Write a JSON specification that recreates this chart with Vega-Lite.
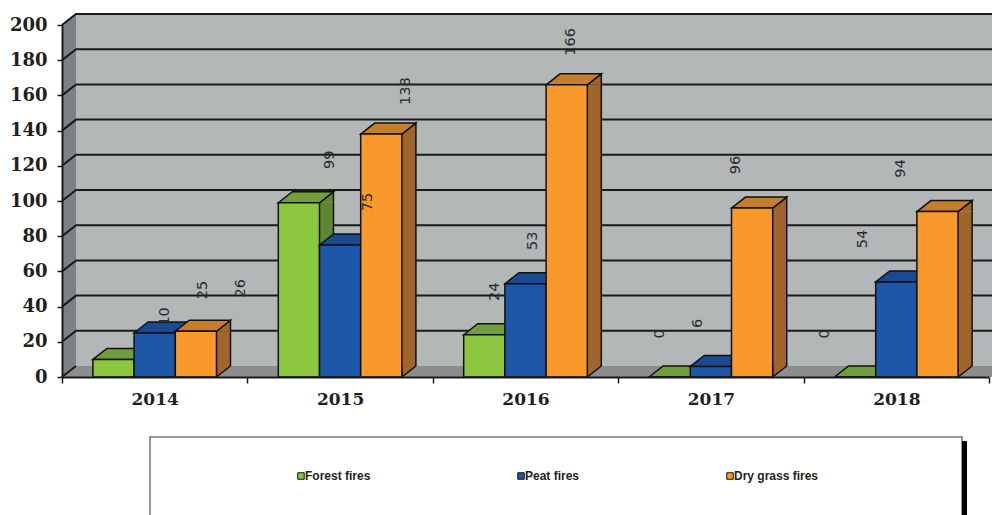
{"$schema":"https://vega.github.io/schema/vega-lite/v6.json","width":992,"height":515,"padding":0,"autosize":{"type":"none"},"background":"white","config":{"view":{"stroke":null}},"resolve":{"scale":{"x":"independent","xOffset":"independent"}},
"datasets":{"fires":[
{"year":"2014","series":"Forest fires","value":10},{"year":"2014","series":"Peat fires","value":25},{"year":"2014","series":"Dry grass fires","value":26},
{"year":"2015","series":"Forest fires","value":99},{"year":"2015","series":"Peat fires","value":75},{"year":"2015","series":"Dry grass fires","value":138},
{"year":"2016","series":"Forest fires","value":24},{"year":"2016","series":"Peat fires","value":53},{"year":"2016","series":"Dry grass fires","value":166},
{"year":"2017","series":"Forest fires","value":0},{"year":"2017","series":"Peat fires","value":6},{"year":"2017","series":"Dry grass fires","value":96},
{"year":"2018","series":"Forest fires","value":0},{"year":"2018","series":"Peat fires","value":54},{"year":"2018","series":"Dry grass fires","value":94}],
"grid":[{"v":20},{"v":40},{"v":60},{"v":80},{"v":100},{"v":120},{"v":140},{"v":160},{"v":180},{"v":200}]},
"layer":[
{"data":{"values":[{}]},"mark":{"type":"rect","fill":"#b4b7b8"},"encoding":{"x":{"datum":0,"type":"quantitative","scale":{"domain":[0,1],"range":[76,992]},"axis":null},"x2":{"datum":1},"y":{"datum":6.25,"type":"quantitative","scale":{"domain":[0,200],"range":[377,25],"nice":false},"axis":{"title":null,"orient":"left","offset":-62,"values":[0,20,40,60,80,100,120,140,160,180,200],"labelFont":"DejaVu Serif","labelFontWeight":"bold","labelFontSize":18,"labelColor":"#231f20","labelPadding":10,"tickSize":5,"tickColor":"#1a1a1a","tickWidth":1.5,"domainColor":"#1a1a1a","domainWidth":2,"zindex":1,"grid":false}},"y2":{"datum":206.25}}},
{"data":{"values":[{}]},"layer":[
{"mark":{"type":"point","shape":"M0 0L14 -11L14 -363L0 -352Z","size":4,"filled":true,"fill":"#7c8184","stroke":null,"opacity":1}},
{"mark":{"type":"point","shape":"M0 0L14 -11L930 -11L930 0Z","size":4,"filled":true,"fill":"#8b8d8f","stroke":null,"opacity":1}},
{"mark":{"type":"point","shape":"M0 0L14 -11","size":4,"filled":false,"stroke":"#1a1a1a","strokeWidth":2,"opacity":1}}],
"encoding":{"x":{"datum":0,"type":"quantitative","scale":{"domain":[0,1],"range":[62,992]},"axis":null},"y":{"datum":0,"type":"quantitative"}}},
{"data":{"name":"grid"},"mark":{"type":"point","shape":"M0 0L14 -11L930 -11","size":4,"filled":false,"stroke":"#1a1a1a","strokeWidth":2,"opacity":1},"encoding":{"x":{"datum":0,"type":"quantitative","scale":{"domain":[0,1],"range":[62,992]},"axis":null},"y":{"field":"v","type":"quantitative"}}},
{"data":{"name":"fires"},"resolve":{"scale":{"x":"shared","xOffset":"shared"}},"encoding":{"x":{"field":"year","type":"nominal","scale":{"domain":["2014","2015","2016","2017","2018"],"range":[62,989],"paddingInner":0,"paddingOuter":0},"axis":{"title":null,"orient":"bottom","offset":-138,"tickBand":"extent","labelAngle":0,"labelFont":"DejaVu Serif","labelFontWeight":"bold","labelFontSize":17,"labelColor":"#231f20","labelPadding":8,"tickSize":6,"tickColor":"#1a1a1a","tickWidth":1.5,"domainColor":"#1a1a1a","domainWidth":2,"zindex":1}},"xOffset":{"field":"series","type":"nominal","scale":{"domain":["Forest fires","Peat fires","Dry grass fires"],"paddingInner":0,"paddingOuter":0.75}}},
"layer":[
{"transform":[{"filter":"datum.series=='Forest fires' && datum.value>0"}],"layer":[
{"mark":{"type":"rule","stroke":"#5f8533","strokeWidth":14},"encoding":{"xOffset":{"value":79.1},"y":{"field":"value","type":"quantitative"},"y2":{"datum":6.25}}},
{"mark":{"type":"rule","stroke":"#111","strokeWidth":1.5},"encoding":{"xOffset":{"value":86.1},"y":{"field":"value","type":"quantitative"},"y2":{"datum":6.25}}},
{"mark":{"type":"point","shape":"M20.6 0L34.6 -11L34.6 0","size":4,"filled":true,"fill":"#5f8533","stroke":"#111","strokeWidth":1.5,"opacity":1},"encoding":{"y":{"field":"value","type":"quantitative"}}}]},
{"transform":[{"filter":"datum.series=='Forest fires'"}],"layer":[
{"mark":{"type":"point","shape":"M-20.6 0L-6.6 -11L34.6 -11L20.6 0Z","size":4,"filled":true,"fill":"#6f9e3a","stroke":"#111","strokeWidth":1.5,"opacity":1},"encoding":{"y":{"field":"value","type":"quantitative"}}},
{"mark":{"type":"bar","stroke":"#111","strokeWidth":1.5},"encoding":{"y":{"field":"value","type":"quantitative"},"y2":{"datum":0},"fill":{"field":"series","type":"nominal","scale":{"domain":["Forest fires","Peat fires","Dry grass fires"],"range":["#8dc63f","#1f57a8","#f9992c"]},"legend":{"title":null,"orient":"none","legendX":295,"legendY":470,"direction":"horizontal","columns":3,"columnPadding":144,"symbolType":"square","symbolSize":42,"symbolStrokeColor":"#333","symbolStrokeWidth":1,"labelFont":"Liberation Sans","labelFontWeight":"bold","labelFontSize":12,"labelColor":"#231f20","labelOffset":-2}}}}]},
{"transform":[{"filter":"datum.series=='Peat fires'"}],"layer":[
{"mark":{"type":"rule","stroke":"#183f7a","strokeWidth":14},"encoding":{"xOffset":{"value":120.3},"y":{"field":"value","type":"quantitative"},"y2":{"datum":6.25}}},
{"mark":{"type":"rule","stroke":"#111","strokeWidth":1.5},"encoding":{"xOffset":{"value":127.3},"y":{"field":"value","type":"quantitative"},"y2":{"datum":6.25}}},
{"mark":{"type":"point","shape":"M20.6 0L34.6 -11L34.6 0","size":4,"filled":true,"fill":"#183f7a","stroke":"#111","strokeWidth":1.5,"opacity":1},"encoding":{"y":{"field":"value","type":"quantitative"}}},
{"mark":{"type":"point","shape":"M-20.6 0L-6.6 -11L34.6 -11L20.6 0Z","size":4,"filled":true,"fill":"#1c4a92","stroke":"#111","strokeWidth":1.5,"opacity":1},"encoding":{"y":{"field":"value","type":"quantitative"}}},
{"mark":{"type":"bar","stroke":"#111","strokeWidth":1.5},"encoding":{"y":{"field":"value","type":"quantitative"},"y2":{"datum":0},"fill":{"field":"series","type":"nominal"}}}]},
{"transform":[{"filter":"datum.series=='Dry grass fires'"}],"layer":[
{"mark":{"type":"rule","stroke":"#a0652a","strokeWidth":14},"encoding":{"xOffset":{"value":161.5},"y":{"field":"value","type":"quantitative"},"y2":{"datum":6.25}}},
{"mark":{"type":"rule","stroke":"#111","strokeWidth":1.5},"encoding":{"xOffset":{"value":168.5},"y":{"field":"value","type":"quantitative"},"y2":{"datum":6.25}}},
{"mark":{"type":"point","shape":"M20.6 0L34.6 -11L34.6 0","size":4,"filled":true,"fill":"#a0652a","stroke":"#111","strokeWidth":1.5,"opacity":1},"encoding":{"y":{"field":"value","type":"quantitative"}}},
{"mark":{"type":"point","shape":"M20.6 -11L20.6 0L34.6 -11","size":4,"filled":true,"fill":"#a0652a","stroke":"#111","strokeWidth":1.5,"opacity":1},"encoding":{"y":{"datum":0,"type":"quantitative"}}},
{"mark":{"type":"point","shape":"M-20.6 0L-6.6 -11L34.6 -11L20.6 0Z","size":4,"filled":true,"fill":"#c57f2c","stroke":"#111","strokeWidth":1.5,"opacity":1},"encoding":{"y":{"field":"value","type":"quantitative"}}},
{"mark":{"type":"bar","stroke":"#111","strokeWidth":1.5},"encoding":{"y":{"field":"value","type":"quantitative"},"y2":{"datum":0},"fill":{"field":"series","type":"nominal"}}}]}
]},
{"data":{"name":"fires"},"mark":{"type":"text","angle":270,"align":"center","baseline":"middle","font":"DejaVu Sans","fontSize":14.5,"color":"#2a2a2a","yOffset":-43},"encoding":{"x":{"field":"year","type":"nominal","scale":{"domain":["2014","2015","2016","2017","2018"],"range":[120,946],"paddingInner":0.31,"paddingOuter":0.155},"axis":null},"xOffset":{"field":"series","type":"nominal","scale":{"domain":["Forest fires","Peat fires","Dry grass fires"]}},"y":{"field":"value","type":"quantitative"},"text":{"field":"value","type":"quantitative"}}},
{"data":{"values":[{}]},"mark":{"type":"rect","fill":"white","stroke":"#777","strokeWidth":1.5},"encoding":{"x":{"datum":0,"type":"quantitative","scale":{"domain":[0,1],"range":[150,962]},"axis":null},"x2":{"datum":1},"y":{"datum":-34.1,"type":"quantitative"},"y2":{"datum":-82}}},
{"data":{"values":[{}]},"mark":{"type":"rule","stroke":"black","strokeWidth":5,"xOffset":2.5},"encoding":{"x":{"datum":1,"type":"quantitative","scale":{"domain":[0,1],"range":[150,962]},"axis":null},"y":{"datum":-36.4,"type":"quantitative"},"y2":{"datum":-82}}}
]}
